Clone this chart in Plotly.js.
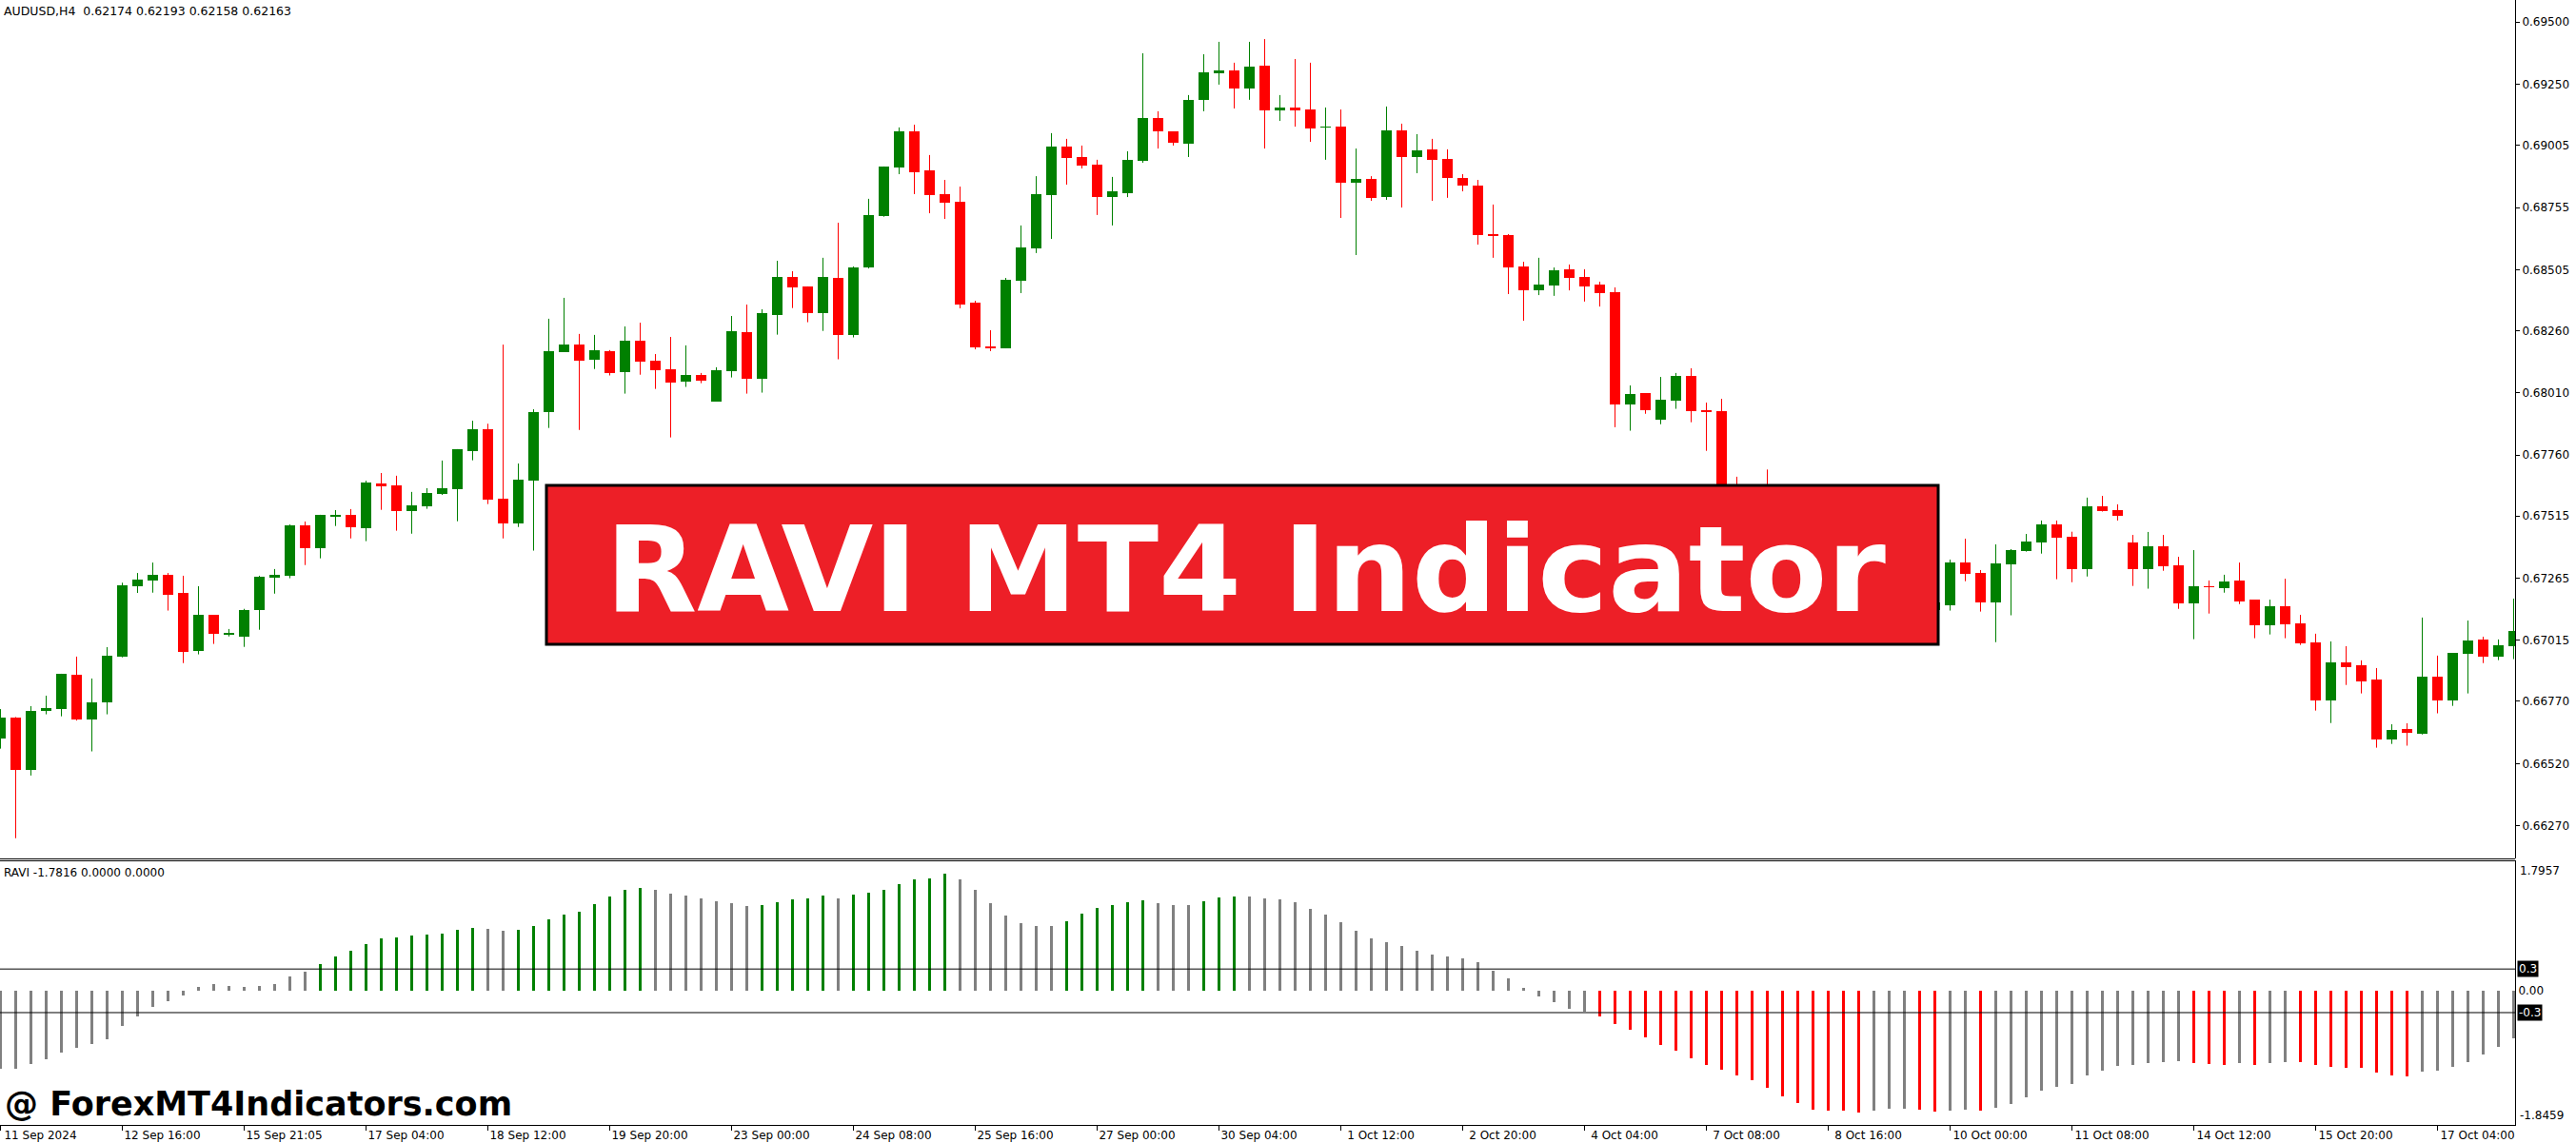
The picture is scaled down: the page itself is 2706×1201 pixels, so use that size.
<!DOCTYPE html>
<html>
<head>
<meta charset="utf-8">
<script src="https://cdn.plot.ly/plotly-3.0.1.min.js"></script>
<style>
html,body{margin:0;padding:0;background:#ffffff;overflow:hidden}
#chart{width:2706px;height:1201px}
</style>
</head>
<body>
<div id="chart"></div>
<script>
// ---- DATA (AUDUSD H4) ----
const timeLabels = ["11 Sep 2024","12 Sep 16:00","15 Sep 21:05","17 Sep 04:00","18 Sep 12:00","19 Sep 20:00",
  "23 Sep 00:00","24 Sep 08:00","25 Sep 16:00","27 Sep 00:00","30 Sep 04:00","1 Oct 12:00","2 Oct 20:00",
  "4 Oct 04:00","7 Oct 08:00","8 Oct 16:00","10 Oct 00:00","11 Oct 08:00","14 Oct 12:00","15 Oct 20:00","17 Oct 04:00"];
const labelBars = [0,8,16,24,32,40,48,56,64,72,80,88,96,104,112,120,128,136,144,152,160];

const priceTicks = [0.69500,0.69250,0.69005,0.68755,0.68505,0.68260,0.68010,0.67760,0.67515,0.67265,0.67015,0.66770,0.66520,0.66270];

const openP = [
0.66622,0.66705,0.66496,0.66733,0.66741,0.66877,0.66699,0.66767,0.66951,0.67234,
0.67257,0.67279,0.67207,0.66974,0.67118,0.67039,0.67031,0.67137,0.67269,0.67276,
0.67478,0.67387,0.67513,0.67520,0.67467,0.67646,0.67638,0.67536,0.67555,0.67605,
0.67624,0.67777,0.67864,0.67585,0.67487,0.67659,0.67934,0.68175,0.68204,0.68145,
0.68178,0.68095,0.68220,0.68139,0.68105,0.68057,0.68082,0.67976,0.68099,0.68254,
0.68068,0.68324,0.68476,0.68438,0.68332,0.68472,0.68244,0.68514,0.68721,0.68916,
0.69061,0.68904,0.68809,0.68778,0.68373,0.68197,0.68189,0.68461,0.68591,0.68805,
0.69000,0.68958,0.68927,0.68797,0.68813,0.68943,0.69115,0.69061,0.69012,0.69188,
0.69295,0.69306,0.69233,0.69325,0.69145,0.69157,0.69149,0.69077,0.69080,0.68855,
0.68870,0.68797,0.69065,0.68958,0.68989,0.68950,0.68874,0.68843,0.68648,0.68644,
0.68518,0.68422,0.68442,0.68507,0.68476,0.68445,0.68415,0.67965,0.68009,0.67903,
0.67980,0.68078,0.67940,0.67937,0.67590,0.67520,0.67560,0.67530,0.67410,0.67350,
0.67280,0.67340,0.67180,0.67120,0.67190,0.67130,0.67090,0.67139,0.67158,0.67328,
0.67286,0.67169,0.67322,0.67376,0.67410,0.67482,0.67432,0.67303,0.67554,0.67539,
0.67409,0.67303,0.67394,0.67317,0.67165,0.67233,0.67227,0.67256,0.67179,0.67077,
0.67153,0.67084,0.67007,0.66775,0.66927,0.66915,0.66858,0.66618,0.66659,0.66641,
0.66869,0.66775,0.66963,0.67019,0.66951,0.66993];
const highP = [
0.66739,0.66707,0.66751,0.66793,0.66881,0.66950,0.66862,0.66988,0.67247,0.67286,
0.67328,0.67286,0.67275,0.67233,0.67118,0.67061,0.67142,0.67275,0.67302,0.67481,
0.67493,0.67520,0.67539,0.67543,0.67657,0.67688,0.67677,0.67612,0.67627,0.67738,
0.67784,0.67898,0.67886,0.68204,0.67726,0.67944,0.68308,0.68392,0.68247,0.68243,
0.68182,0.68277,0.68292,0.68166,0.68235,0.68201,0.68090,0.68113,0.68319,0.68365,
0.68346,0.68541,0.68499,0.68438,0.68553,0.68694,0.68518,0.68790,0.68920,0.69077,
0.69088,0.68966,0.68866,0.68839,0.68380,0.68262,0.68472,0.68683,0.68881,0.69054,
0.69031,0.69004,0.68947,0.68878,0.68981,0.69375,0.69142,0.69061,0.69207,0.69371,
0.69421,0.69337,0.69421,0.69432,0.69207,0.69352,0.69337,0.69157,0.69149,0.68992,
0.68881,0.69161,0.69092,0.69050,0.69031,0.68989,0.68889,0.68866,0.68767,0.68648,
0.68537,0.68553,0.68514,0.68526,0.68507,0.68457,0.68434,0.68040,0.68009,0.68074,
0.68090,0.68109,0.67971,0.67986,0.67673,0.67600,0.67702,0.67580,0.67460,0.67420,
0.67380,0.67360,0.67250,0.67220,0.67260,0.67210,0.67200,0.67190,0.67340,0.67424,
0.67298,0.67401,0.67382,0.67443,0.67497,0.67497,0.67452,0.67589,0.67596,0.67562,
0.67439,0.67451,0.67439,0.67351,0.67378,0.67256,0.67279,0.67328,0.67179,0.67179,
0.67263,0.67118,0.67042,0.67011,0.66992,0.66935,0.66904,0.66678,0.66682,0.67107,
0.66954,0.66965,0.67095,0.67030,0.67019,0.67183];
const lowP = [
0.66580,0.66220,0.66472,0.66718,0.66710,0.66693,0.66569,0.66718,0.66947,0.67206,
0.67207,0.67135,0.66924,0.66959,0.67001,0.67031,0.66989,0.67058,0.67203,0.67265,
0.67318,0.67345,0.67475,0.67425,0.67414,0.67540,0.67456,0.67444,0.67544,0.67600,
0.67494,0.67739,0.67563,0.67425,0.67471,0.67376,0.67869,0.68175,0.67861,0.68106,
0.68080,0.68007,0.68083,0.68026,0.67831,0.68034,0.68049,0.67976,0.68072,0.68007,
0.68011,0.68244,0.68351,0.68294,0.68259,0.68145,0.68233,0.68510,0.68718,0.68889,
0.68809,0.68732,0.68709,0.68350,0.68185,0.68178,0.68189,0.68411,0.68572,0.68629,
0.68847,0.68912,0.68725,0.68683,0.68797,0.68935,0.68992,0.69004,0.68958,0.69142,
0.69249,0.69153,0.69188,0.68992,0.69103,0.69080,0.69019,0.68947,0.68713,0.68564,
0.68782,0.68786,0.68755,0.68893,0.68782,0.68794,0.68820,0.68606,0.68553,0.68407,
0.68300,0.68403,0.68400,0.68422,0.68377,0.68357,0.67872,0.67858,0.67926,0.67884,
0.67946,0.67892,0.67777,0.67560,0.67480,0.67440,0.67500,0.67380,0.67300,0.67240,
0.67220,0.67150,0.67080,0.67060,0.67100,0.67040,0.67050,0.67100,0.67135,0.67253,
0.67131,0.67008,0.67116,0.67372,0.67364,0.67261,0.67249,0.67272,0.67533,0.67497,
0.67234,0.67223,0.67295,0.67142,0.67020,0.67123,0.67207,0.67161,0.67024,0.67039,
0.67024,0.66997,0.66733,0.66683,0.66836,0.66802,0.66584,0.66599,0.66592,0.66637,
0.66722,0.66752,0.66802,0.66924,0.66936,0.66940];
const closeP = [
0.66705,0.66496,0.66732,0.66743,0.66881,0.66699,0.66766,0.66954,0.67237,0.67260,
0.67279,0.67200,0.66970,0.67118,0.67043,0.67045,0.67137,0.67271,0.67279,0.67478,
0.67387,0.67520,0.67520,0.67471,0.67650,0.67636,0.67536,0.67558,0.67608,0.67626,
0.67784,0.67864,0.67582,0.67487,0.67661,0.67933,0.68178,0.68204,0.68141,0.68182,
0.68091,0.68220,0.68137,0.68102,0.68053,0.68082,0.68060,0.68101,0.68258,0.68068,
0.68331,0.68476,0.68435,0.68332,0.68476,0.68244,0.68514,0.68725,0.68920,0.69061,
0.68897,0.68805,0.68774,0.68365,0.68193,0.68189,0.68465,0.68595,0.68809,0.69000,
0.68954,0.68924,0.68797,0.68820,0.68947,0.69115,0.69061,0.69015,0.69188,0.69298,
0.69306,0.69233,0.69321,0.69145,0.69157,0.69145,0.69073,0.69080,0.68855,0.68870,
0.68794,0.69065,0.68958,0.68985,0.68947,0.68874,0.68843,0.68644,0.68641,0.68514,
0.68422,0.68445,0.68503,0.68472,0.68438,0.68411,0.67963,0.68005,0.67942,0.67983,
0.68078,0.67938,0.67934,0.67590,0.67520,0.67560,0.67530,0.67410,0.67350,0.67280,
0.67340,0.67180,0.67120,0.67190,0.67130,0.67090,0.67140,0.67167,0.67328,0.67284,
0.67169,0.67325,0.67378,0.67413,0.67482,0.67429,0.67303,0.67554,0.67536,0.67517,
0.67303,0.67394,0.67314,0.67165,0.67233,0.67228,0.67252,0.67173,0.67077,0.67153,
0.67081,0.67005,0.66775,0.66927,0.66909,0.66852,0.66618,0.66655,0.66645,0.66869,
0.66775,0.66965,0.67015,0.66951,0.66996,0.67053];

const raviValues = [
-1.0786,-1.0699,-1.0087,-0.9389,-0.8472,-0.7860,-0.7293,-0.6681,-0.4803,-0.3493,
-0.2183,-0.1441,-0.0655,0.0568,0.0917,0.0655,0.0568,0.0699,0.0917,0.1965,
0.2664,0.3668,0.4716,0.5502,0.6419,0.7205,0.7336,0.7598,0.7773,0.7860,
0.8384,0.8646,0.8472,0.8253,0.8384,0.8908,0.9825,1.0480,1.0873,1.1921,
1.2969,1.3930,1.4148,1.3930,1.3362,1.3100,1.2751,1.2314,1.2052,1.1659,
1.1790,1.2183,1.2576,1.2707,1.3100,1.2751,1.3231,1.3537,1.3886,1.4672,
1.5328,1.5459,1.6114,1.5328,1.3886,1.2009,1.0349,0.9301,0.8908,0.8908,
0.9563,1.0611,1.1397,1.1790,1.2183,1.2445,1.2052,1.1790,1.1790,1.2314,
1.2838,1.2969,1.2969,1.2707,1.2576,1.2183,1.1266,1.0480,0.9432,0.8253,
0.7205,0.6681,0.6157,0.5502,0.4978,0.4716,0.4454,0.3930,0.2751,0.1703,
0.0393,-0.0742,-0.1528,-0.2445,-0.2838,-0.3493,-0.4541,-0.5328,-0.6376,-0.7424,
-0.8210,-0.9258,-1.0175,-1.0830,-1.1616,-1.2271,-1.3319,-1.4498,-1.5415,-1.6332,
-1.6463,-1.6480,-1.6725,-1.6463,-1.6245,-1.6245,-1.6332,-1.6594,-1.6463,-1.6332,
-1.6463,-1.6070,-1.5546,-1.4629,-1.3712,-1.3188,-1.2795,-1.1616,-1.0961,-1.0306,
-1.0175,-0.9913,-0.9782,-0.9651,-0.9913,-1.0044,-1.0175,-0.9913,-1.0175,-0.9913,
-0.9782,-0.9869,-1.0175,-1.0437,-1.0568,-1.0590,-1.1223,-1.1616,-1.1747,-1.1092,
-1.0961,-1.0437,-0.9782,-0.8734,-0.7686,-0.6507];
const raviLevels = [0.3, -0.3];
const raviMax = 1.7957, raviMin = -1.8459;

// ---- STYLE ----
const UP = '#008000', DOWN = '#ff0000', GRAY = '#808080';
const W = 2706, H = 1201, MR = 64, MB = 19;
const PW = W - MR, PH = H - MB;           // plot area 2642 x 1182
const fx = p => p / PW;                   // pixel -> paper x
const fy = p => 1 - p / PH;               // pixel -> paper y
const FONT = 'DejaVu Sans';

const idx = openP.map((_, i) => i);
const isUp = i => closeP[i] >= openP[i];
const MINB = 0.00005;
const bodyBase = idx.map(i => {
  const lo = Math.min(openP[i], closeP[i]);
  const d = Math.abs(closeP[i] - openP[i]);
  return d < MINB ? (openP[i] + closeP[i]) / 2 - MINB / 2 : lo;
});
const bodyH = idx.map(i => Math.max(Math.abs(closeP[i] - openP[i]), MINB));
const bodyCol = idx.map(i => isUp(i) ? UP : DOWN);

function wicks(up) {
  const xs = [], ys = [];
  idx.forEach(i => { if (isUp(i) === up) { xs.push(i, i, null); ys.push(lowP[i], highP[i], null); } });
  return {type:'scatter', mode:'lines', x:xs, y:ys, xaxis:'x', yaxis:'y',
          line:{color: up ? UP : DOWN, width:1}, hoverinfo:'skip', connectgaps:false};
}

const raviCol = raviValues.map((v, i) => {
  const prev = i > 0 ? raviValues[i - 1] : v;
  if (v > raviLevels[0] && v > prev) return UP;
  if (v < raviLevels[1] && v < prev) return DOWN;
  return GRAY;
});

const traces = [
  wicks(true), wicks(false),
  {type:'bar', x:idx, y:bodyH, base:bodyBase, width:0.6875, xaxis:'x', yaxis:'y',
   marker:{color:bodyCol, line:{width:0}}, hoverinfo:'skip'},
  {type:'bar', x:idx, y:raviValues, width:0.15, xaxis:'x', yaxis:'y2',
   marker:{color:raviCol, line:{width:0}}, hoverinfo:'skip'}
];

const yTop = 0.695891, pxPerUnit = 26142.4;
const yBot = yTop - 902 / pxPerUnit;

const layout = {
  width:W, height:H,
  margin:{l:0, r:MR, t:0, b:MB, pad:0},
  paper_bgcolor:'#ffffff', plot_bgcolor:'#ffffff',
  showlegend:false, barmode:'overlay', bargap:0,
  font:{family:FONT, size:12, color:'#000'},
  xaxis:{range:[-0.03125, 165.09375], anchor:'y2', tickmode:'array', tickvals:labelBars, ticktext:timeLabels,
         ticks:'outside', ticklen:5, tickwidth:1, tickcolor:'#000', showline:true, linecolor:'#000', linewidth:1,
         showgrid:false, zeroline:false, ticklabelshift:42, ticklabelstandoff:-5,
         tickfont:{family:FONT, size:12, color:'#000'}, fixedrange:true},
  yaxis:{domain:[fy(902), 1], range:[yBot, yTop], side:'right', tickmode:'array', tickvals:priceTicks,
         ticktext:priceTicks.map(v => v.toFixed(5)), ticks:'outside', ticklen:4, tickcolor:'#000',
         showline:true, linecolor:'#000', linewidth:1, showgrid:false, zeroline:false,
         tickfont:{family:FONT, size:12, color:'#000'}, fixedrange:true},
  yaxis2:{domain:[0, fy(904)], range:[raviMin, raviMax], side:'right', tickmode:'array', tickvals:[0],
          ticktext:['0.00'], ticks:'', showline:true, linecolor:'#000', linewidth:1, showgrid:false,
          zeroline:false, tickfont:{family:FONT, size:12, color:'#000'}, fixedrange:true},
  shapes:[
    {type:'line', xref:'paper', yref:'paper', x0:0, x1:1, y0:fy(902.5), y1:fy(902.5), line:{color:'#000', width:1}},
    {type:'line', xref:'paper', yref:'paper', x0:0, x1:1, y0:fy(904.5), y1:fy(904.5), line:{color:'#000', width:1}},
    {type:'line', xref:'paper', yref:'y2', x0:0, x1:1, y0:raviLevels[0], y1:raviLevels[0], line:{color:'#000', width:1}},
    {type:'line', xref:'paper', yref:'y2', x0:0, x1:1, y0:raviLevels[1], y1:raviLevels[1], line:{color:'#000', width:1}},
    {type:'rect', xref:'paper', yref:'paper', x0:fx(574), x1:fx(2036), y0:fy(677), y1:fy(510), layer:'above',
     fillcolor:'#ED1F27', line:{color:'#000', width:3}}
  ],
  annotations:[
    {xref:'paper', yref:'paper', x:fx(2), y:fy(2), xanchor:'left', yanchor:'top', showarrow:false,
     text:'AUDUSD,H4\u00a0\u00a00.62174 0.62193 0.62158 0.62163', font:{family:FONT, size:12.5, color:'#000'}},
    {xref:'paper', yref:'paper', x:fx(2), y:fy(917), xanchor:'left', yanchor:'middle', showarrow:false,
     text:'RAVI -1.7816 0.0000 0.0000', font:{family:FONT, size:12, color:'#000'}},
    {xref:'paper', yref:'paper', x:fx(2645), y:fy(915), xanchor:'left', yanchor:'middle', showarrow:false,
     text:raviMax.toFixed(4), font:{family:FONT, size:12, color:'#000'}},
    {xref:'paper', yref:'paper', x:fx(2645), y:fy(1172), xanchor:'left', yanchor:'middle', showarrow:false,
     text:raviMin.toFixed(4), font:{family:FONT, size:12, color:'#000'}},
    {xref:'paper', yref:'y2', x:fx(2644), y:raviLevels[0], xanchor:'left', yanchor:'middle', showarrow:false,
     text:String(raviLevels[0]), bgcolor:'#000', borderpad:1, font:{family:FONT, size:12, color:'#fff'}},
    {xref:'paper', yref:'y2', x:fx(2644), y:raviLevels[1], xanchor:'left', yanchor:'middle', showarrow:false,
     text:String(raviLevels[1]), bgcolor:'#000', borderpad:1, font:{family:FONT, size:12, color:'#fff'}},
    {xref:'paper', yref:'paper', x:fx(1308), y:fy(598), xanchor:'center', yanchor:'middle', showarrow:false,
     text:'RAVI MT4 Indicator', font:{family:FONT, size:125, weight:700, color:'#ffffff'}},
    {xref:'paper', yref:'paper', x:fx(3), y:fy(1160), xanchor:'left', yanchor:'middle', showarrow:false,
     text:'@ ForexMT4Indicators.com', font:{family:FONT, size:35, weight:700, color:'#000'}}
  ]
};

Plotly.newPlot('chart', traces, layout, {staticPlot:true, displayModeBar:false});
</script>
</body>
</html>
